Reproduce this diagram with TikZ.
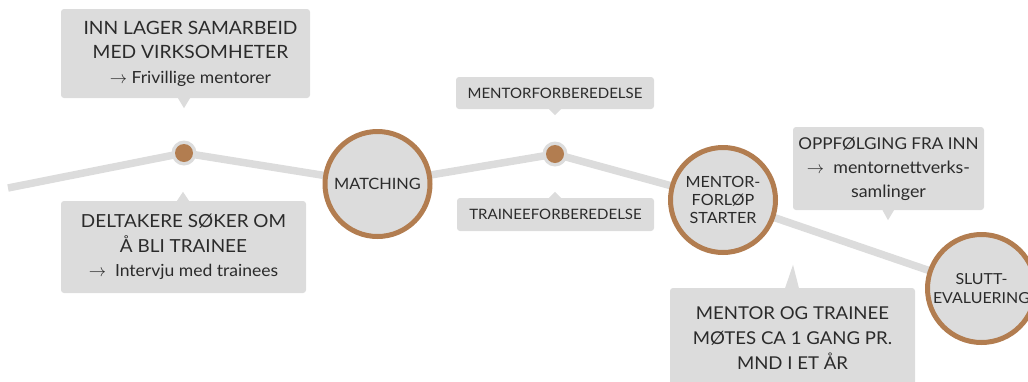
\documentclass[tikz,border=0pt]{standalone}
\usepackage{fontspec}
\setmainfont{Lato}[FakeStretch=1.05]
\usetikzlibrary{backgrounds}
\definecolor{linegray}{HTML}{DCDCDC}
\definecolor{boxgray}{HTML}{DCDCDC}
\definecolor{brownc}{HTML}{B27D50}
\definecolor{txt}{HTML}{2B2B2B}
\begin{document}
\begin{tikzpicture}[x=1pt,y=-1pt,
  track/.style={draw=linegray,line width=7.5pt,line join=round},
  stage/.style={circle,draw=brownc,line width=5pt,fill=linegray,minimum size=105pt,inner sep=0pt,text=txt,align=center},
  halo/.style={circle,fill=linegray,minimum size=25pt,inner sep=0pt},
  dotc/.style={circle,fill=brownc,minimum size=18pt,inner sep=0pt},
  callout/.style={rectangle,rounded corners=3pt,fill=boxgray,text=txt,align=center,inner sep=0pt},
  ptr/.style={fill=boxgray}]
\useasboundingbox (0,0) rectangle (1028,381);

% stages
\node[stage,font=\fontsize{15.6}{19}\selectfont] (m) at (377.5,184) {MATCHING};
\node[stage,font=\fontsize{15.4}{18}\selectfont] (ms) at (723,200) {MENTOR-\\FORLØP\\STARTER};
\node[stage,minimum size=108pt,font=\fontsize{15.2}{19}\selectfont] (se) at (981.5,288.5) {SLUTT-\\EVALUERING};

% dots
\node[halo] (d1) at (184,153) {};
\node[dotc] (d1i) at (d1) {};
\node[halo] (d2) at (555,154) {};
\node[dotc] (d2i) at (d2) {};

\coordinate (start) at (8,188);
\begin{scope}[on background layer]
\draw[track] (start) -- (d1.center) -- (m.center) -- (d2.center) -- (ms.center) -- (se.center);
\end{scope}

% callouts
\node[callout,minimum width=249pt,minimum height=89pt,font=\fontsize{18.3}{24.5}\selectfont] (b1) at (185.5,53.5)
  {\hspace*{10pt}INN LAGER SAMARBEID\\\hspace*{10pt}MED VIRKSOMHETER\\{\fontsize{16.7}{24}\selectfont\hspace*{10pt}$\rightarrow$ Frivillige mentorer}};
\fill[ptr] ([xshift=-7.5pt]b1.south) -- ([xshift=-1.5pt,yshift=-10pt]b1.south) -- ([xshift=4.5pt]b1.south) -- cycle;

\node[callout,minimum width=245pt,minimum height=92pt,font=\fontsize{18}{24.5}\selectfont] (b2) at (183.5,247)
  {DELTAKERE SØKER OM\\Å BLI TRAINEE\\{\fontsize{16.7}{24}\selectfont$\rightarrow$\ \ Intervju med trainees}};
\fill[ptr] ([xshift=-6.5pt]b2.north) -- ([xshift=-0.5pt,yshift=9pt]b2.north) -- ([xshift=5.5pt]b2.north) -- cycle;

\node[callout,minimum width=198pt,minimum height=32pt,font=\fontsize{14.3}{17}\selectfont] (b3) at (555,93) {MENTORFORBEREDELSE};
\fill[ptr] ([xshift=-6pt]b3.south) -- ([yshift=-6pt]b3.south) -- ([xshift=6pt]b3.south) -- cycle;

\node[callout,minimum width=197pt,minimum height=33pt,font=\fontsize{14.3}{17}\selectfont] (b4) at (555.5,214.5) {TRAINEEFORBEREDELSE};
\fill[ptr] ([xshift=-6.5pt]b4.north) -- ([xshift=-0.5pt,yshift=6pt]b4.north) -- ([xshift=5.5pt]b4.north) -- cycle;

\node[callout,minimum width=191pt,minimum height=83pt,font=\fontsize{16.3}{24}\selectfont] (b5) at (888.5,168.5)
  {OPPFØLGING FRA INN\\{\fontsize{17}{22}\selectfont$\rightarrow$\ \ mentornettverks-}\\{\fontsize{17}{22}\selectfont samlinger}};
\fill[ptr] ([xshift=-6pt]b5.south) -- ([xshift=-0.5pt,yshift=-10pt]b5.south) -- ([xshift=5.5pt]b5.south) -- cycle;

\node[callout,minimum width=245pt,minimum height=100pt,font=\fontsize{17.7}{25}\selectfont] (b6) at (792.5,338)
  {MENTOR OG TRAINEE\\MØTES CA 1 GANG PR.\\MND I ET ÅR};
\fill[ptr] ([xshift=-7.5pt,yshift=-0.5pt]b6.north) -- ([xshift=0.5pt,yshift=23pt]b6.north) -- ([xshift=6.5pt,yshift=-0.5pt]b6.north) -- cycle;
\end{tikzpicture}
\end{document}
